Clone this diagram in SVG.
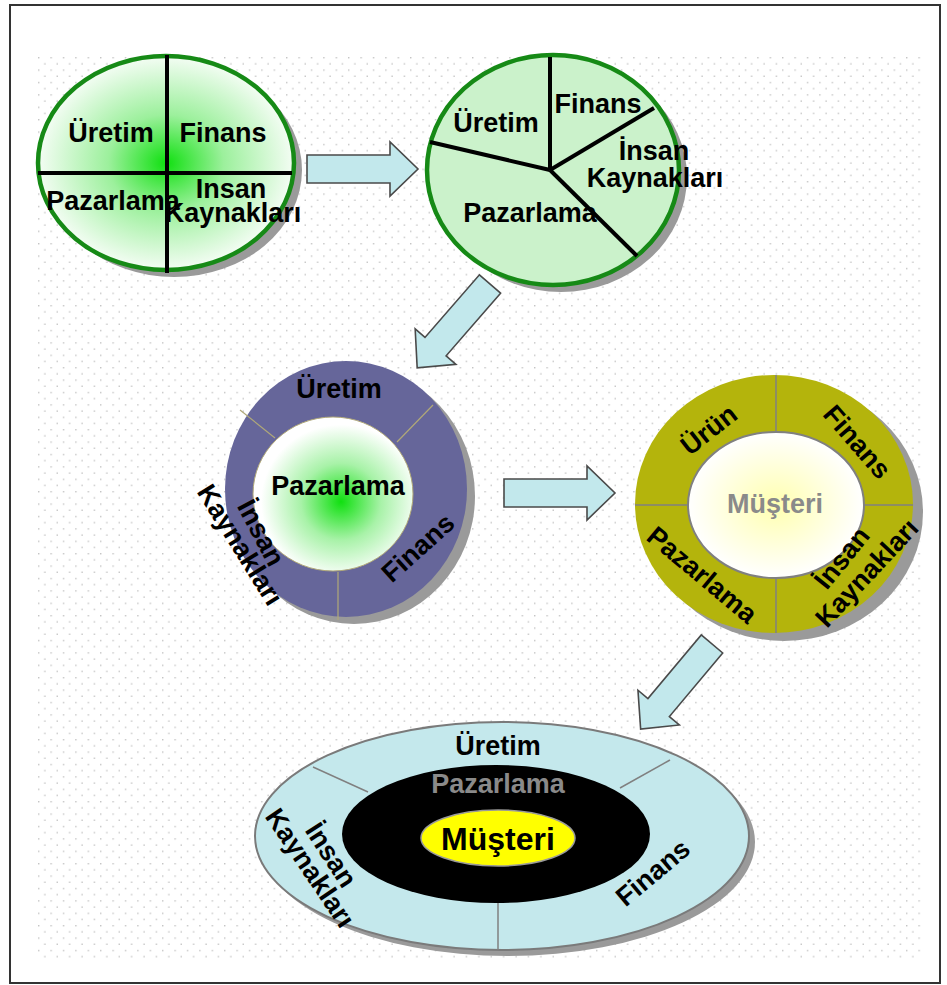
<svg xmlns="http://www.w3.org/2000/svg" width="947" height="985" viewBox="0 0 947 985">
<defs>
<pattern id="dots" x="38" y="57" width="12.4" height="12.4" patternUnits="userSpaceOnUse">
<rect x="0" y="0" width="1.4" height="1.4" fill="#c4c4c4"/>
<rect x="6.2" y="6.2" width="1.4" height="1.4" fill="#c4c4c4"/>
</pattern>
<radialGradient id="g1" cx="0.5" cy="0.5" r="0.5">
<stop offset="0" stop-color="#10e010"/>
<stop offset="0.45" stop-color="#9cf09c"/>
<stop offset="1" stop-color="#f4fdf4"/>
</radialGradient>
<radialGradient id="g3" cx="0.55" cy="0.55" r="0.5">
<stop offset="0" stop-color="#10e010"/>
<stop offset="0.5" stop-color="#a8f2a8"/>
<stop offset="1" stop-color="#ffffff"/>
</radialGradient>
<radialGradient id="g4" cx="0.5" cy="0.5" r="0.5">
<stop offset="0" stop-color="#ffffb0"/>
<stop offset="1" stop-color="#ffffff"/>
</radialGradient>
<polygon id="arrow" points="0,-14 83,-14 83,-27 111,0 83,27 83,14 0,14"/>
<style>
text{font-family:"Liberation Sans",Arial,sans-serif;font-weight:bold;font-size:27px;text-anchor:middle;fill:#000}
.shadow{fill:#9a9a9a}
.arr{fill:#c2e8ec;stroke:#4a4a4a;stroke-width:1.6}
.spoke{stroke:#000;stroke-width:4;fill:none}
.div1{stroke:#b0a878;stroke-width:1.2}
.div2{stroke:#808080;stroke-width:1.5}
.grey{fill:#8a8a8a}
</style>
</defs>
<rect x="0" y="0" width="947" height="985" fill="#ffffff"/>
<rect x="38" y="57" width="884" height="901" fill="url(#dots)"/>
<rect x="10" y="5" width="930" height="978" fill="none" stroke="#333" stroke-width="2"/>

<g id="circle1">
<ellipse class="shadow" cx="174" cy="170" rx="128" ry="107"/>
<ellipse cx="166" cy="163" rx="128" ry="107" fill="url(#g1)" stroke="#168a16" stroke-width="4.5"/>
<line class="spoke" x1="38" y1="173" x2="292" y2="173"/>
<line class="spoke" x1="167" y1="55" x2="167" y2="273"/>
<text x="111" y="142">Üretim</text>
<text x="223" y="142">Finans</text>
<text x="113" y="210">Pazarlama</text>
<text x="231" y="198">Insan</text>
<text x="233" y="222">Kaynakları</text>
</g>

<g id="circle2">
<ellipse class="shadow" cx="561" cy="177" rx="126" ry="115"/>
<ellipse cx="553" cy="170" rx="126" ry="115" fill="#cbf2cb" stroke="#168a16" stroke-width="4.5"/>
<line class="spoke" x1="550" y1="170" x2="550" y2="57"/>
<line class="spoke" x1="550" y1="170" x2="654" y2="108"/>
<line class="spoke" x1="550" y1="170" x2="637" y2="256"/>
<line class="spoke" x1="550" y1="170" x2="430" y2="142"/>
<text x="598" y="113">Finans</text>
<text x="496" y="132">Üretim</text>
<text x="654" y="160">İnsan</text>
<text x="655" y="187">Kaynakları</text>
<text x="530" y="222">Pazarlama</text>
</g>

<g id="ring3">
<ellipse class="shadow" cx="354" cy="496" rx="121" ry="128"/>
<ellipse cx="346" cy="489" rx="121" ry="128" fill="#66669a"/>
<ellipse cx="333" cy="494" rx="80" ry="77" fill="url(#g3)" stroke="#b0a878" stroke-width="1"/>
<line class="div1" x1="240" y1="410" x2="275" y2="438"/>
<line class="div1" x1="433" y1="405" x2="397" y2="442"/>
<line class="div1" x1="338" y1="572" x2="338" y2="620"/>
<text x="339" y="398">Üretim</text>
<text x="338" y="495">Pazarlama</text>
<text transform="translate(418,548) rotate(-42)" x="0" y="9">Finans</text>
<text transform="translate(261,533) rotate(62)" x="0" y="9">İnsan</text>
<text transform="translate(240,545) rotate(58)" x="0" y="9">Kaynakları</text>
</g>

<g id="ring4">
<ellipse class="shadow" cx="784" cy="512" rx="139" ry="129"/>
<ellipse cx="774" cy="504" rx="139" ry="129" fill="#b4b40c"/>
<ellipse cx="776" cy="505" rx="88" ry="73" fill="url(#g4)" stroke="#808080" stroke-width="2"/>
<line class="div2" x1="776" y1="375" x2="776" y2="432"/>
<line class="div2" x1="776" y1="578" x2="776" y2="633"/>
<line class="div2" x1="635" y1="505" x2="688" y2="505"/>
<line class="div2" x1="864" y1="505" x2="913" y2="505"/>
<text class="grey" x="775" y="513">Müşteri</text>
<text transform="translate(709,430) rotate(-38)" x="0" y="9">Ürün</text>
<text transform="translate(857,442) rotate(49)" x="0" y="9">Finans</text>
<text transform="translate(702,575) rotate(40)" x="0" y="9">Pazarlama</text>
<text transform="translate(842,558) rotate(-51)" x="0" y="9">İnsan</text>
<text transform="translate(867,573) rotate(-47)" x="0" y="9">Kaynakları</text>
</g>

<g id="ellipse5">
<ellipse class="shadow" cx="508" cy="842" rx="247" ry="114"/>
<ellipse cx="502" cy="836" rx="247" ry="114" fill="#c4e8ec" stroke="#7a7a7a" stroke-width="2"/>
<line class="div2" x1="313" y1="767" x2="368" y2="792"/>
<line class="div2" x1="670" y1="760" x2="620" y2="788"/>
<line class="div2" x1="498" y1="903" x2="498" y2="950"/>
<ellipse cx="496" cy="834" rx="154" ry="69" fill="#000"/>
<ellipse cx="498" cy="838" rx="77" ry="28" fill="#ffff00" stroke="#9a9a9a" stroke-width="1.5"/>
<text x="498" y="755">Üretim</text>
<text class="grey" x="498" y="793">Pazarlama</text>
<text x="498" y="850" style="font-size:32px">Müşteri</text>
<text transform="translate(653,873) rotate(-40)" x="0" y="9">Finans</text>
<text transform="translate(331,855) rotate(57)" x="0" y="9">İnsan</text>
<text transform="translate(310,868) rotate(56)" x="0" y="9">Kaynakları</text>
</g>

<g id="connectors">
<use href="#arrow" class="arr" transform="translate(307,169)"/>
<use href="#arrow" class="arr" transform="translate(490,284) rotate(131)"/>
<use href="#arrow" class="arr" transform="translate(504,493)"/>
<use href="#arrow" class="arr" transform="translate(712,644) rotate(130)"/>
</g>
</svg>
